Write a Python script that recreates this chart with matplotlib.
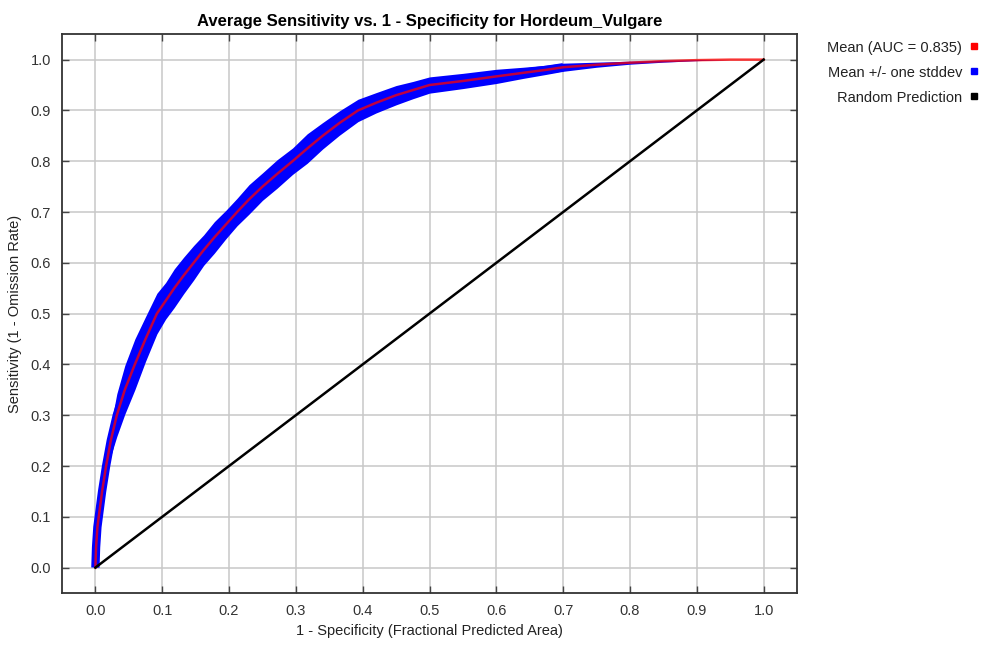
import numpy as np
import matplotlib
matplotlib.use('Agg')
import matplotlib.pyplot as plt
from matplotlib.lines import Line2D

plt.rcParams['font.family'] = ['Liberation Sans', 'DejaVu Sans']

# mean ROC curve
fpr = [0.0, 0.001, 0.003, 0.006, 0.010, 0.016, 0.023, 0.032, 0.044, 0.059,
       0.075, 0.092, 0.105, 0.118, 0.132, 0.147, 0.162, 0.178, 0.195, 0.212,
       0.230, 0.250, 0.272, 0.295, 0.317, 0.340, 0.365, 0.393, 0.420, 0.450,
       0.475, 0.500, 0.550, 0.600, 0.640, 0.675, 0.700, 0.750, 0.800, 0.850,
       0.900, 0.950, 1.0]
sens = [0.0, 0.04, 0.08, 0.11, 0.15, 0.20, 0.25, 0.30, 0.35, 0.40,
        0.45, 0.50, 0.525, 0.55, 0.575, 0.60, 0.625, 0.65, 0.675, 0.70,
        0.725, 0.75, 0.775, 0.80, 0.825, 0.85, 0.875, 0.90, 0.915, 0.93,
        0.94, 0.95, 0.958, 0.967, 0.974, 0.980, 0.985, 0.990, 0.994, 0.997,
        0.999, 1.0, 1.0]
# one stddev around the mean (sensitivity)
sd = [0.0, 0.004, 0.008, 0.012, 0.016, 0.022, 0.030, 0.042, 0.048, 0.050,
      0.044, 0.040, 0.036, 0.038, 0.036, 0.034, 0.030, 0.031, 0.028, 0.027,
      0.029, 0.027, 0.028, 0.026, 0.029, 0.026, 0.024, 0.022, 0.020, 0.019,
      0.017, 0.016, 0.015, 0.014, 0.011, 0.009, 0.008, 0.005, 0.003, 0.002,
      0.001, 0.0, 0.0]
random_x = [0.0, 1.0]
random_y = [0.0, 1.0]

auc = 0.835
xticks = np.round(np.arange(0, 1.01, 0.1), 1)
yticks = np.round(np.arange(0, 1.01, 0.1), 1)

fpr = np.array(fpr)
sens = np.array(sens)
sd = np.array(sd)

fig = plt.figure(figsize=(9.84, 6.52), dpi=100)
ax = fig.add_axes([0.063, 0.0905, 0.747, 0.857])

ax.fill_between(fpr, sens - sd, np.minimum(sens + sd, 1.0), color='#0000ff', lw=0, zorder=2)
near = fpr <= 0.72
ax.plot(fpr[near], sens[near], color='#0000ff', lw=6, solid_capstyle='butt', zorder=2)
ax.plot(fpr, sens, color='#ff0000', lw=1.8, alpha=0.75, zorder=3)
ax.plot(random_x, random_y, color='black', lw=1.8, zorder=3)

ax.set_xlim(-0.05, 1.05)
ax.set_ylim(-0.05, 1.05)
ax.set_xticks(xticks)
ax.set_yticks(yticks)
ax.set_xticklabels([f'{t:.1f}' for t in xticks])
ax.set_yticklabels([f'{t:.1f}' for t in yticks])
ax.grid(True, color='#c8c8c8', lw=1.1, zorder=0)
ax.set_axisbelow(True)
ax.tick_params(direction='in', length=5, width=1, color='#444444',
               top=True, right=True, labelsize=10.5, labelcolor='#333333', pad=8)
for s in ax.spines.values():
    s.set_linewidth(1.3)
    s.set_color('#333333')

ax.set_title('Average Sensitivity vs. 1 - Specificity for Hordeum_Vulgare',
             fontsize=12, fontweight='bold', pad=6)
ax.set_xlabel('1 - Specificity (Fractional Predicted Area)', fontsize=10.5, color='#222222', labelpad=4)
ax.set_ylabel('Sensitivity (1 - Omission Rate)', fontsize=10.5, color='#222222', labelpad=6)

# legend on the right, text right-aligned with small squares after it
leg_labels = [f'Mean (AUC = {auc})', 'Mean +/- one stddev', 'Random Prediction']
leg_colors = ['#ff0000', '#0000ff', '#000000']
for i, (lab, col) in enumerate(zip(leg_labels, leg_colors)):
    yf = 1 - (48 + 25 * i) / 652
    fig.text(962 / 984, yf, lab, ha='right', va='center', fontsize=10.5, color='#222222')
    fig.add_artist(Line2D([974 / 984], [yf + 2 / 652], marker='s', markersize=4.5,
                          color=col, linestyle='none', transform=fig.transFigure))

fig.savefig('out.png', dpi=100)
